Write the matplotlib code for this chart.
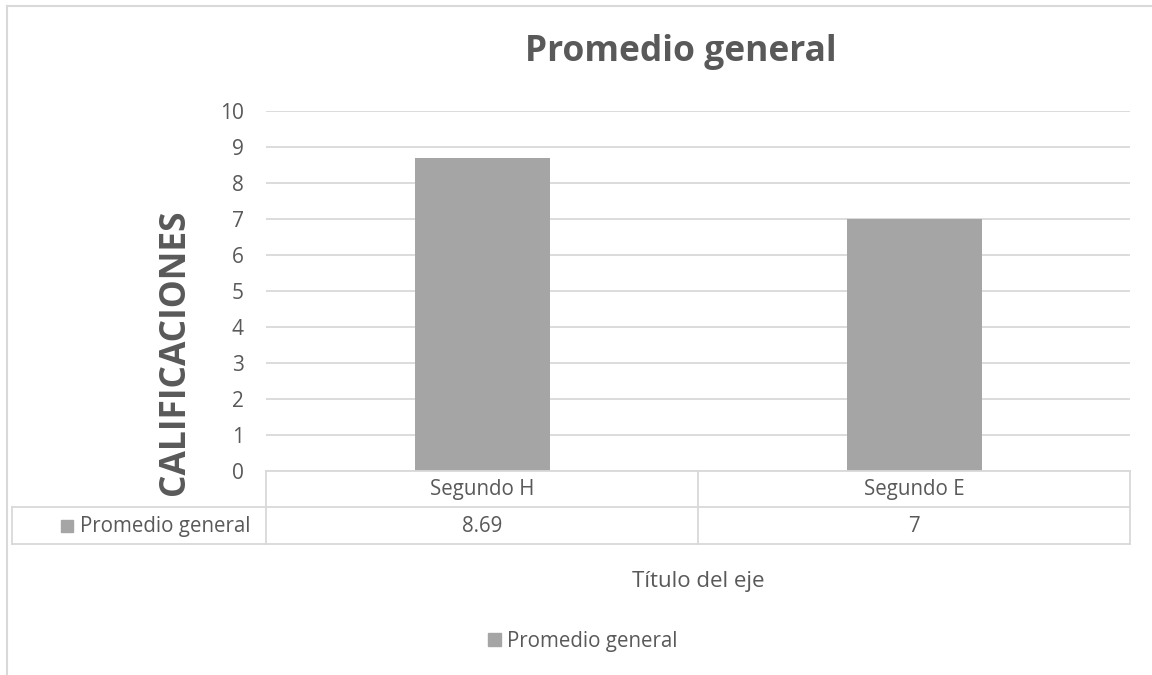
import numpy as np
import matplotlib.pyplot as plt
from matplotlib.lines import Line2D
from matplotlib.patches import Rectangle
from matplotlib.transforms import blended_transform_factory

categories = ["Segundo H", "Segundo E"]
valores = [8.69, 7]
etiquetas = ["8.69", "7"]
serie = "Promedio general"
yticks = list(range(0, 11))

plt.rcParams['font.family'] = ['Open Sans', 'DejaVu Sans']

W, H = 1152, 675
fig = plt.figure(figsize=(W / 100, H / 100), dpi=100)

def px(x, y):
    # pixel (top-left origin) -> figure fraction
    return x / W, 1 - y / H

gris = "#d9d9d9"
texto = "#595959"
barra = "#a5a5a5"

# chart frame (cut off on right and bottom)
fig.add_artist(Line2D([7 / W, 7 / W], [0, 1 - 6 / H], color=gris, lw=1.5, transform=fig.transFigure))
fig.add_artist(Line2D([7 / W, 1], [1 - 6 / H, 1 - 6 / H], color=gris, lw=1.5, transform=fig.transFigure))

left, top, right, bottom = 266, 111, 1130, 471
ax = fig.add_axes([left / W, 1 - bottom / H, (right - left) / W, (bottom - top) / H])
x = np.arange(len(categories))
ax.bar(x, valores, width=0.3125, color=barra, zorder=3)
ax.set_xlim(-0.5, len(categories) - 0.5)
ax.set_ylim(0, 10)
ax.set_yticks(yticks)
ax.set_yticklabels([str(t) for t in yticks])
ax.yaxis.grid(True, color=gris, lw=1.3)
ax.set_axisbelow(True)
ax.set_xticks([])
for s in ax.spines.values():
    s.set_visible(False)
ax.tick_params(axis='y', length=0, pad=16, labelsize=15, labelcolor=texto)

ax.set_ylabel("CALIFICACIONES", fontsize=25.5, fontweight='bold', color=texto)
ax.yaxis.set_label_coords((175 - left) / (right - left), (bottom - 352) / (bottom - top))
ax.yaxis.label.set_verticalalignment('center')

fig.text(*px(681, 52), "Promedio general", ha='center', va='center',
         fontsize=25.5, fontweight='bold', color=texto)

# data table below the plot
tr = blended_transform_factory(ax.transData, fig.transFigure)
row1, row2, row3 = 471, 507, 544
for yy, x0 in [(row1, left), (row2, 12), (row3, 12)]:
    fig.add_artist(Line2D([x0 / W, right / W], [1 - yy / H] * 2, color=gris, lw=1.3,
                          transform=fig.transFigure))
for xx, y0 in [(12, row2), (left, row1), (right, row1)]:
    fig.add_artist(Line2D([xx / W] * 2, [1 - y0 / H, 1 - row3 / H], color=gris, lw=1.3,
                          transform=fig.transFigure))
for b in np.arange(len(categories) - 1) + 0.5:
    fig.add_artist(Line2D([b, b], [1 - row1 / H, 1 - row3 / H], color=gris, lw=1.3, transform=tr))

for i, (c, e) in enumerate(zip(categories, etiquetas)):
    fig.text(i, 1 - ((row1 + row2) / 2 + 1) / H, c, transform=tr, ha='center', va='center',
             fontsize=14.8, color=texto)
    fig.text(i, 1 - ((row2 + row3) / 2 + 1) / H, e, transform=tr, ha='center', va='center',
             fontsize=14.8, color=texto)

fig.add_artist(Rectangle(px(61, 532), 12 / W, 12 / H, color=barra, transform=fig.transFigure))
fig.text(*px(80, (row2 + row3) / 2 + 1), serie, ha='left', va='center', fontsize=14.8, color=texto)

fig.text(*px(698, 582), "Título del eje", ha='center', va='center', fontsize=16, color=texto)

# legend
fig.add_artist(Rectangle(px(488, 646), 13 / W, 13 / H, color=barra, transform=fig.transFigure))
fig.text(*px(507, 641), serie, ha='left', va='center', fontsize=14.8, color=texto)

fig.savefig("out.png", dpi=100, facecolor='white')
